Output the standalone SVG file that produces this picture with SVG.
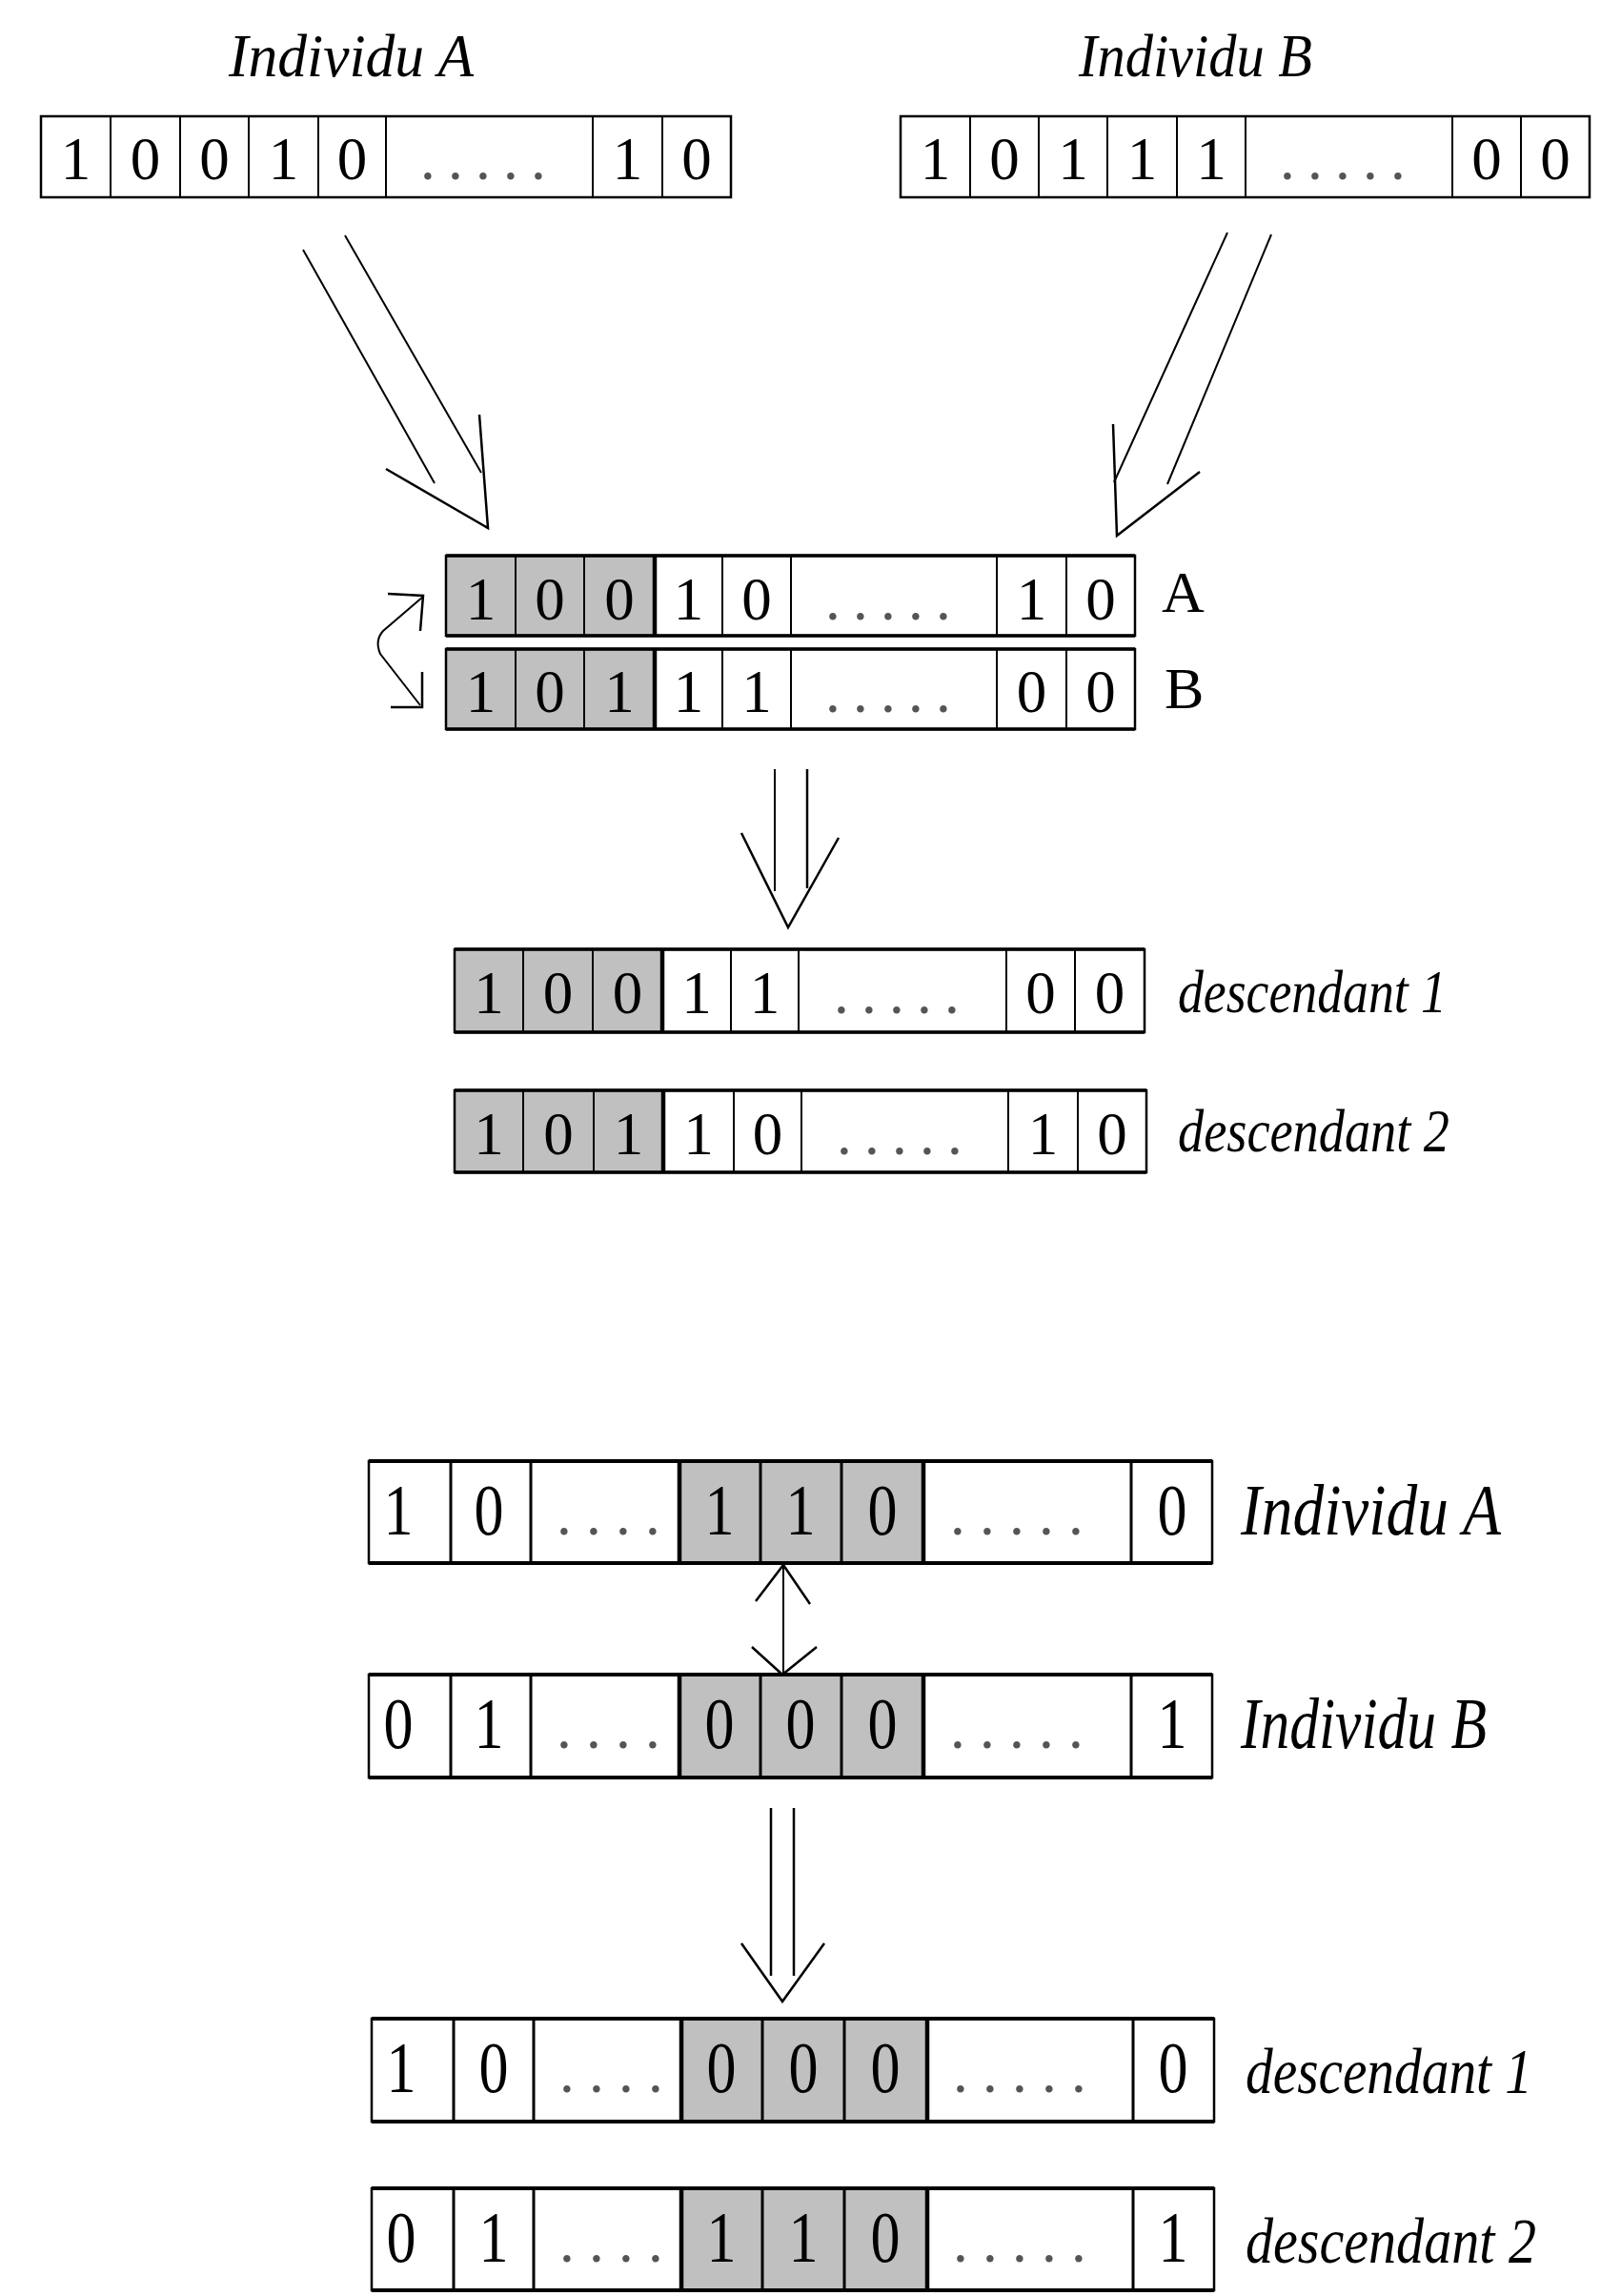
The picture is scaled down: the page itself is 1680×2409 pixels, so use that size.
<svg xmlns="http://www.w3.org/2000/svg" width="1680" height="2409" viewBox="0 0 1680 2409">
<style>
.bg{fill:#fff}
.gr{fill:#c0c0c0}
.ol{fill:none;stroke:#000;stroke-width:2.5}
.hz{stroke:#000;stroke-width:3.5}
.hz2{stroke:#000;stroke-width:4}
.dv{stroke:#000;stroke-width:2}
.dv3{stroke:#000;stroke-width:3}
.tk{stroke:#000;stroke-width:4.5}
.d{font-family:"Liberation Serif",serif;font-size:63px;text-anchor:middle;fill:#000}
.db{font-family:"Liberation Serif",serif;font-size:77px;text-anchor:middle;fill:#000}
.dots{font-family:"Liberation Serif",serif;font-size:63px;letter-spacing:13.25px;fill:#555}
.dots2{font-family:"Liberation Serif",serif;font-size:63px;letter-spacing:15.25px;fill:#555}
.it{font-family:"Liberation Serif",serif;font-style:italic;fill:#000}
.rm{font-family:"Liberation Serif",serif;font-size:62px;fill:#000}
.ln{fill:none;stroke:#000;stroke-width:2}
.hd{fill:none;stroke:#000;stroke-width:2.5}
</style>
<rect class="bg" x="0" y="0" width="1680" height="2409"/>

<!-- Top: Individu A -->
<g id="top-individu-a">
<text class="it" x="240" y="80" font-size="63" textLength="257" lengthAdjust="spacingAndGlyphs">Individu A</text>
<rect class="ol" x="43" y="122" width="724" height="85"/>
<path class="dv" d="M116 122V207M189 122V207M261 122V207M334 122V207M405 122V207M622 122V207M695 122V207"/>
<text class="d" x="79.5" y="188">1</text><text class="d" x="152.5" y="188">0</text><text class="d" x="225" y="188">0</text><text class="d" x="297.5" y="188">1</text><text class="d" x="369.5" y="188">0</text>
<text class="dots" x="441" y="188">.....</text>
<text class="d" x="658.5" y="188">1</text><text class="d" x="731" y="188">0</text>
</g>

<!-- Top: Individu B -->
<g id="top-individu-b">
<text class="it" x="1132" y="80" font-size="63" textLength="245" lengthAdjust="spacingAndGlyphs">Individu B</text>
<rect class="ol" x="945" y="122" width="723" height="85"/>
<path class="dv" d="M1018 122V207M1090 122V207M1162 122V207M1235 122V207M1307 122V207M1524 122V207M1596 122V207"/>
<text class="d" x="981.5" y="188">1</text><text class="d" x="1054" y="188">0</text><text class="d" x="1126" y="188">1</text><text class="d" x="1198.5" y="188">1</text><text class="d" x="1271" y="188">1</text>
<text class="dots" x="1343" y="188">.....</text>
<text class="d" x="1560" y="188">0</text><text class="d" x="1632" y="188">0</text>
</g>

<!-- Middle: parent A -->
<g id="mid-parent-a">
<rect class="gr" x="468" y="583" width="219" height="84"/>
<rect class="ol" x="468" y="583" width="723" height="84"/>
<path class="hz" d="M468 583H1191M468 667H1191"/>
<path class="dv" d="M541 583V667M613 583V667M758 583V667M830 583V667M1046 583V667M1119 583V667"/>
<path class="tk" d="M687 583V667"/>
<text class="d" x="504.5" y="650">1</text><text class="d" x="577" y="650">0</text><text class="d" x="650" y="650">0</text><text class="d" x="722.5" y="650">1</text><text class="d" x="794" y="650">0</text>
<text class="dots" x="866" y="650">.....</text>
<text class="d" x="1082.5" y="650">1</text><text class="d" x="1155" y="650">0</text>
<text class="rm" x="1219" y="642">A</text>
</g>

<!-- Middle: parent B -->
<g id="mid-parent-b">
<rect class="gr" x="468" y="681" width="219" height="84"/>
<rect class="ol" x="468" y="681" width="723" height="84"/>
<path class="hz" d="M468 681H1191M468 765H1191"/>
<path class="dv" d="M541 681V765M613 681V765M758 681V765M830 681V765M1046 681V765M1119 681V765"/>
<path class="tk" d="M687 681V765"/>
<text class="d" x="504.5" y="747">1</text><text class="d" x="577" y="747">0</text><text class="d" x="650" y="747">1</text><text class="d" x="722.5" y="747">1</text><text class="d" x="794" y="747">1</text>
<text class="dots" x="866" y="747">.....</text>
<text class="d" x="1082.5" y="747">0</text><text class="d" x="1155" y="747">0</text>
<text class="rm" x="1222" y="743">B</text>
</g>

<!-- Middle: descendant 1 -->
<g id="mid-descendant-1">
<rect class="gr" x="477" y="996" width="218" height="87"/>
<rect class="ol" x="477" y="996" width="724" height="87"/>
<path class="hz" d="M477 996H1201M477 1083H1201"/>
<path class="dv" d="M549 996V1083M622 996V1083M767 996V1083M838 996V1083M1056 996V1083M1128 996V1083"/>
<path class="tk" d="M695 996V1083"/>
<text class="d" x="513" y="1063">1</text><text class="d" x="585.5" y="1063">0</text><text class="d" x="658.5" y="1063">0</text><text class="d" x="731" y="1063">1</text><text class="d" x="802.5" y="1063">1</text>
<text class="dots" x="875" y="1063">.....</text>
<text class="d" x="1092" y="1063">0</text><text class="d" x="1164.5" y="1063">0</text>
<text class="it" x="1236" y="1062" font-size="63" textLength="282" lengthAdjust="spacingAndGlyphs">descendant 1</text>
</g>

<!-- Middle: descendant 2 -->
<g id="mid-descendant-2">
<rect class="gr" x="477" y="1144" width="219" height="86"/>
<rect class="ol" x="477" y="1144" width="726" height="86"/>
<path class="hz" d="M477 1144H1203M477 1230H1203"/>
<path class="dv" d="M549 1144V1230M623 1144V1230M770 1144V1230M841 1144V1230M1058 1144V1230M1131 1144V1230"/>
<path class="tk" d="M696 1144V1230"/>
<text class="d" x="513" y="1211">1</text><text class="d" x="586" y="1211">0</text><text class="d" x="659.5" y="1211">1</text><text class="d" x="733" y="1211">1</text><text class="d" x="805.5" y="1211">0</text>
<text class="dots" x="878" y="1211">.....</text>
<text class="d" x="1094.5" y="1211">1</text><text class="d" x="1167" y="1211">0</text>
<text class="it" x="1236" y="1208" font-size="63" textLength="285" lengthAdjust="spacingAndGlyphs">descendant 2</text>
</g>

<!-- Bottom: Individu A -->
<g id="bot-individu-a">
<rect class="gr" x="713" y="1533" width="256" height="107"/>
<rect class="ol" x="387" y="1533" width="885" height="107"/>
<path class="hz2" d="M387 1533H1272M387 1640H1272"/>
<path class="dv3" d="M473 1533V1640M557 1533V1640M798 1533V1640M883 1533V1640M1187 1533V1640"/>
<path class="tk" d="M713 1533V1640M969 1533V1640"/>
<text class="db" x="418" y="1610" textLength="31" lengthAdjust="spacingAndGlyphs">1</text><text class="db" x="513" y="1610" textLength="31" lengthAdjust="spacingAndGlyphs">0</text>
<text class="dots2" x="584" y="1610">....</text>
<text class="db" x="755" y="1610" textLength="31" lengthAdjust="spacingAndGlyphs">1</text><text class="db" x="840" y="1610" textLength="31" lengthAdjust="spacingAndGlyphs">1</text><text class="db" x="926" y="1610" textLength="31" lengthAdjust="spacingAndGlyphs">0</text>
<text class="dots2" x="997" y="1610">.....</text>
<text class="db" x="1230" y="1610" textLength="31" lengthAdjust="spacingAndGlyphs">0</text>
<text class="it" x="1302" y="1610" font-size="77" textLength="273" lengthAdjust="spacingAndGlyphs">Individu A</text>
</g>

<!-- Bottom: Individu B -->
<g id="bot-individu-b">
<rect class="gr" x="713" y="1757" width="256" height="108"/>
<rect class="ol" x="387" y="1757" width="885" height="108"/>
<path class="hz2" d="M387 1757H1272M387 1865H1272"/>
<path class="dv3" d="M473 1757V1865M557 1757V1865M798 1757V1865M883 1757V1865M1187 1757V1865"/>
<path class="tk" d="M713 1757V1865M969 1757V1865"/>
<text class="db" x="418" y="1834" textLength="31" lengthAdjust="spacingAndGlyphs">0</text><text class="db" x="513" y="1834" textLength="31" lengthAdjust="spacingAndGlyphs">1</text>
<text class="dots2" x="584" y="1834">....</text>
<text class="db" x="755" y="1834" textLength="31" lengthAdjust="spacingAndGlyphs">0</text><text class="db" x="840" y="1834" textLength="31" lengthAdjust="spacingAndGlyphs">0</text><text class="db" x="926" y="1834" textLength="31" lengthAdjust="spacingAndGlyphs">0</text>
<text class="dots2" x="997" y="1834">.....</text>
<text class="db" x="1230" y="1834" textLength="31" lengthAdjust="spacingAndGlyphs">1</text>
<text class="it" x="1302" y="1834" font-size="77" textLength="258" lengthAdjust="spacingAndGlyphs">Individu B</text>
</g>

<!-- Bottom: descendant 1 -->
<g id="bot-descendant-1">
<rect class="gr" x="715" y="2118" width="258" height="108"/>
<rect class="ol" x="390" y="2118" width="884" height="108"/>
<path class="hz2" d="M390 2118H1274M390 2226H1274"/>
<path class="dv3" d="M476 2118V2226M560 2118V2226M800 2118V2226M886 2118V2226M1189 2118V2226"/>
<path class="tk" d="M715 2118V2226M973 2118V2226"/>
<text class="db" x="421" y="2195" textLength="31" lengthAdjust="spacingAndGlyphs">1</text><text class="db" x="518" y="2195" textLength="31" lengthAdjust="spacingAndGlyphs">0</text>
<text class="dots2" x="587" y="2195">....</text>
<text class="db" x="757" y="2195" textLength="31" lengthAdjust="spacingAndGlyphs">0</text><text class="db" x="843" y="2195" textLength="31" lengthAdjust="spacingAndGlyphs">0</text><text class="db" x="929" y="2195" textLength="31" lengthAdjust="spacingAndGlyphs">0</text>
<text class="dots2" x="1000" y="2195">.....</text>
<text class="db" x="1231" y="2195" textLength="31" lengthAdjust="spacingAndGlyphs">0</text>
<text class="it" x="1307" y="2196" font-size="68" textLength="301" lengthAdjust="spacingAndGlyphs">descendant 1</text>
</g>

<!-- Bottom: descendant 2 -->
<g id="bot-descendant-2">
<rect class="gr" x="715" y="2296" width="258" height="107"/>
<rect class="ol" x="390" y="2296" width="884" height="107"/>
<path class="hz2" d="M390 2296H1274M390 2403H1274"/>
<path class="dv3" d="M476 2296V2403M560 2296V2403M800 2296V2403M886 2296V2403M1189 2296V2403"/>
<path class="tk" d="M715 2296V2403M973 2296V2403"/>
<text class="db" x="421" y="2373" textLength="31" lengthAdjust="spacingAndGlyphs">0</text><text class="db" x="518" y="2373" textLength="31" lengthAdjust="spacingAndGlyphs">1</text>
<text class="dots2" x="587" y="2373">....</text>
<text class="db" x="757" y="2373" textLength="31" lengthAdjust="spacingAndGlyphs">1</text><text class="db" x="843" y="2373" textLength="31" lengthAdjust="spacingAndGlyphs">1</text><text class="db" x="929" y="2373" textLength="31" lengthAdjust="spacingAndGlyphs">0</text>
<text class="dots2" x="1000" y="2373">.....</text>
<text class="db" x="1231" y="2373" textLength="31" lengthAdjust="spacingAndGlyphs">1</text>
<text class="it" x="1307" y="2374" font-size="68" textLength="305" lengthAdjust="spacingAndGlyphs">descendant 2</text>
</g>

<!-- Connectors -->
<g id="connectors">
<!-- A to crossover -->
<path class="ln" d="M318 262L456 507M362 247L505 496"/>
<path class="hd" d="M405 492L512 554L503 435"/>
<!-- B to crossover -->
<path class="ln" d="M1288 244L1169 506M1334 246L1225 508"/>
<path class="hd" d="M1168 445L1172 562L1259 495"/>
<!-- swap arrow -->
<path class="ln" d="M444 626L402 662Q393 672 399 686L441 740"/>
<path class="hd" d="M407 623L444 625L441 662M410 742L443 742L443 705"/>
<!-- crossover to descendants -->
<path class="ln" d="M813 807V935"/>
<path class="hd" d="M847 807V932"/>
<path class="hd" d="M778 874L827 973L880 879"/>
<!-- exchange arrow -->
<path class="ln" d="M822 1642V1757"/>
<path class="hd" d="M793 1680L822 1642L850 1683M789 1728L821 1757L857 1728"/>
<!-- bottom down arrow -->
<path class="hd" d="M809 1897V2073M833 1897V2073"/>
<path class="hd" d="M778 2039L821 2100L865 2039"/>
</g>
</svg>
